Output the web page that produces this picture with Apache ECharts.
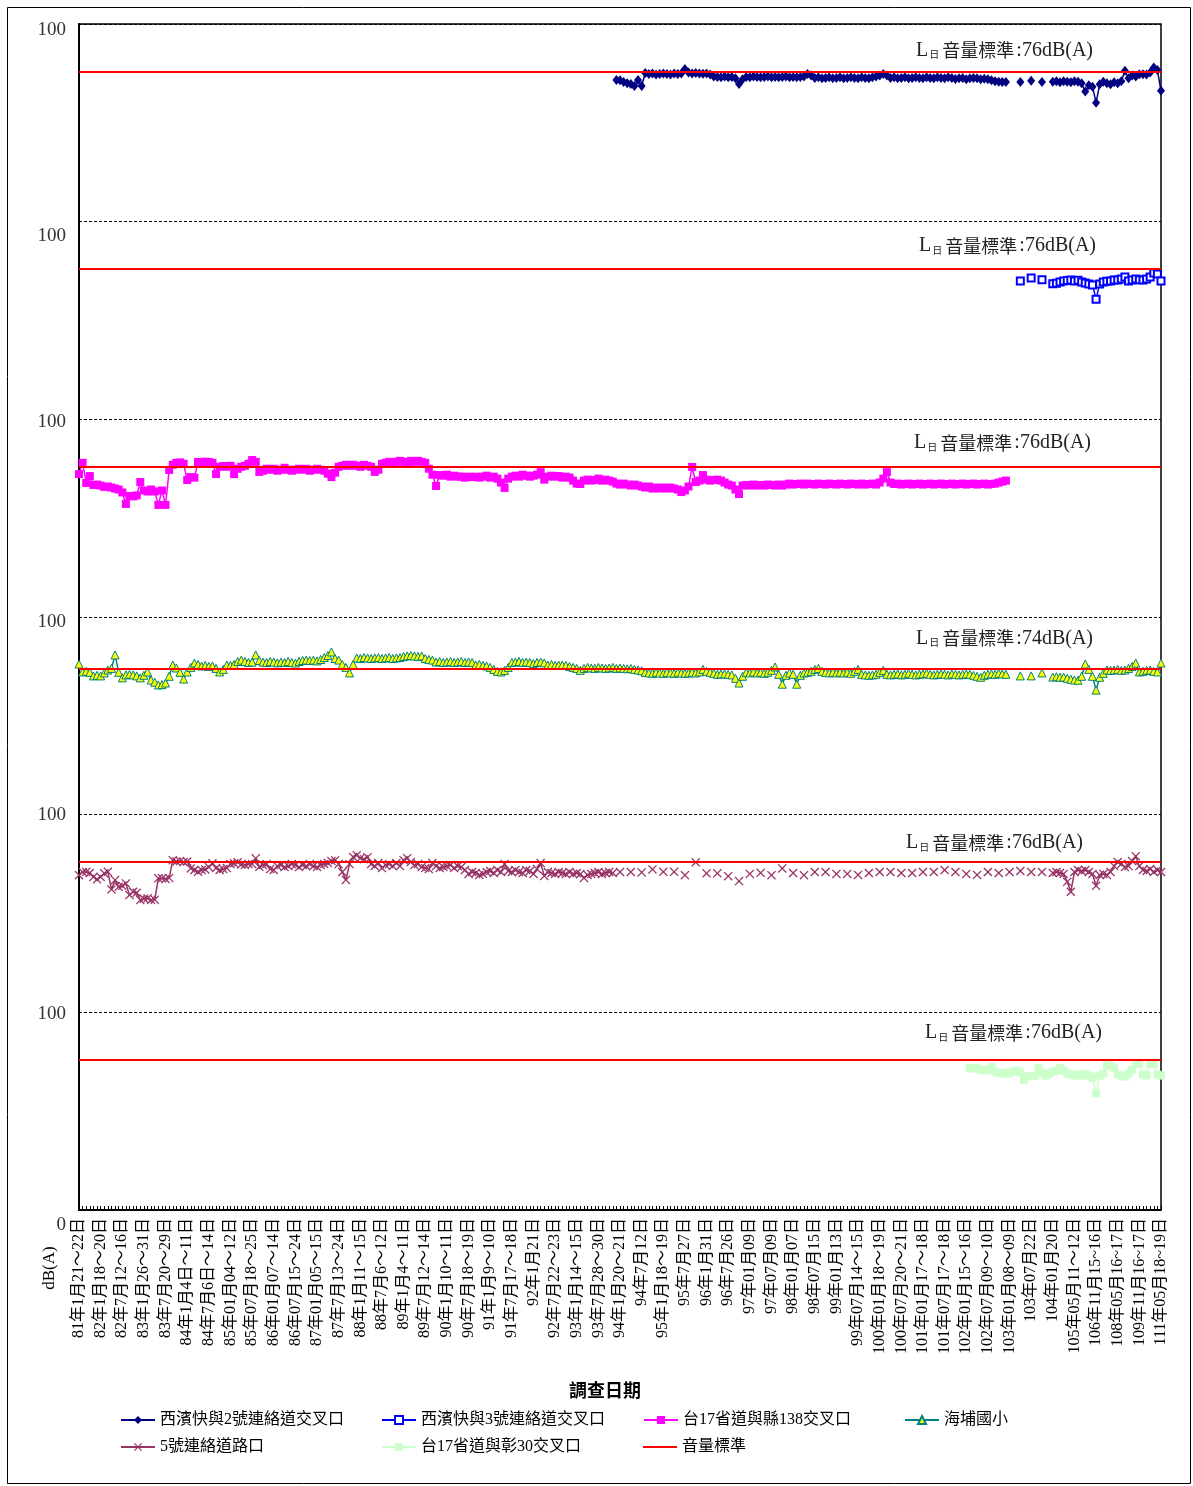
<!DOCTYPE html>
<html><head><meta charset="utf-8">
<script src="https://cdn.jsdelivr.net/npm/echarts@6/dist/echarts.min.js"></script>
<style>html,body{margin:0;padding:0;background:#fff}#c{width:1193px;height:1486px}</style>
</head><body><div id="c"></div>
<script>
// ---- category (survey) labels ----
const surveyLabels = [
'81年1月21～22日','82年1月18～20日','82年7月12～16日','83年1月26～31日','83年7月20～29日',
'84年1月4日～11日','84年7月6日～14日','85年01月04～12日','85年07月18～25日','86年01月07～14日',
'86年07月15～24日','87年01月05～15日','87年7月13～24日','88年1月11～15日','88年7月6～12日',
'89年1月4～11日','89年7月12～14日','90年1月10～11日','90年7月18～19日','91年1月9～10日',
'91年7月17～18日','92年1月21日','92年7月22～23日','93年1月14～15日','93年7月28～30日',
'94年1月20～21日','94年7月12日','95年1月18～19日','95年7月27日','96年1月31日',
'96年7月26日','97年01月09日','97年07月09日','98年01月07日','98年07月15日',
'99年01月13日','99年07月14～15日','100年01月18～19日','100年07月20～21日','101年01月17～18日',
'101年07月17～18日','102年01月15～16日','102年07月09～10日','103年01月08～09日','103年07月22日',
'104年01月20日','105年05月11～12日','106年11月15~16日','108年05月16~17日','109年11月16~17日',
'111年05月18~19日'];
const slotsPerSurvey = 6;

const seriesNames = ['西濱快與2號連絡道交叉口','西濱快與3號連絡道交叉口','台17省道與縣138交叉口','海埔國小','5號連絡道路口','台17省道與彰30交叉口','音量標準'];
const standards = [76, 76, 76, 74, 76, 76];

// ---- values, dB(A) ----
// 西濱快與2號連絡道交叉口 : starts at category 149
const west2Start = 149;
const west2Early = [
71.7,71.5,70.7,70,69.6,68.6,71.7,68.6,75.2,74.7,
75,74.5,74.7,75,74.7,74.5,75,74.7,75,77.2,
75.5,75,75.2,75,74.8,75,74.5,73.5,73.2,73,
73.5,73,73.2,72.5,69.6,72,73.2,73,73.5,73.2,
73,73.2,73.5,73,73.2,73,73.2,73.5,73,73.2,
73,73.2,73.5,74.7,74,72.7,73,72.5,72.7,73,
72.5,72.7,73,72.5,72.7,73,72.7,72.5,73,72.7,
72.5,73,73.5,74,74.7,74,72.7,73,72.5,72.7,
73,72.5,72.7,73,72.7,72.5,73,72.7,72.5,73,
72.7,72.5,73,72.7,72.2,72.5,72.7,72,72.5,72.7,
72.5,72,72.3,72,71.5,71,70.8,70.6,70.6];
const lateStart = 261;
const west2Late = [70.7,null,null,71.3,null,null,70.7,null,null,
70.8,71,70.5,71,70.8,70.5,71,70.8,70,65.8,
69,68.3,60.2,69.5,70.8,70,69.5,70.5,70,71,
76.4,72.5,74,73.5,74.6,74.6,74.5,75.5,78,76.7,
66.2];
// 西濱快與3號連絡道交叉口 : starts at category 261
const west3Late = [70,null,null,71.5,null,null,70.6,null,null,
68.6,68.8,69.5,70,70.2,70.5,70,70.3,69.5,69,
68.5,68,60.8,68.5,69.5,69.8,70,70.5,70.5,71,
72,70,70.5,71,70.6,70.5,71,72,74,73.5,
70];
// 台17省道與縣138交叉口 : starts at category 0
const tai138 = [
72.3,78,67.8,71.3,66.8,67,66.5,65.8,66,65.5,
65,64.5,63,57.2,61.2,61,61.5,68.3,64,63.5,
64.5,63.5,56.7,64,56.7,74.4,77,78,78.2,77.5,
69.3,70.8,70.5,78.4,78.4,78.6,78.4,78,72.3,76,
76.4,76,76.5,72.3,75,76,76.5,77.5,79.4,78.5,
73.4,74,75,74.5,75,74,74.5,75.5,74.5,74,
74.5,75,74.5,75,74,74.5,75,74.5,74,72.5,
70.8,73,76,76.5,77,76.5,77,76.5,76,77,
76.5,76,73.4,74.5,77.5,78,78.5,78,78.5,79,
78.5,78,79,78.5,79,78.5,78,75,72,66.3,
71.8,71.5,72,71,71.5,71,71,70.5,71,70.8,
71,70.5,71,71.5,70.5,71,70,68,65.3,70,
71,71.5,71,72,71.5,71,71.5,72,73.3,69.5,
71,71.5,71,71.3,70.5,71,70.5,69,67.5,67.3,
69,69.5,69,69.3,70,69,69.5,69,68.5,67.5,
67,67.5,67,66.5,67,66.5,66,65.5,66,65,
65.5,65,65.5,65,65.5,65,64.5,63.2,64,66,
75.9,68.3,69,71.8,69.5,69,69.3,69.5,69,68,
67,66.5,64.5,62.2,66.5,66.8,66.5,67,66.5,66.8,
66.5,67,66.8,66.5,67,66.5,67,67.5,67,67.3,
67.5,67,67.5,67.3,67,67.5,67.3,67,67.5,67.3,
67,67.5,67.3,67,67.5,67.3,67,67.5,67,67.3,
67.5,67,68,70,73.3,68,67.3,67.5,67,67.3,
67.5,67,67.3,67.5,67,67.3,67.5,67,67.3,67.5,
67,67.3,67.5,67,67.3,67.5,67,67.3,67.5,67,
67.3,67.5,67,67.3,67.5,68,68.5,69];
// 海埔國小 : starts at category 0, late part from 261
const haipuEarly = [
76.2,72.2,72.5,72,70.2,70.5,70.2,71.7,73.2,74,
80.8,72,69.2,70.7,71,70.7,70.2,69.2,70.5,72.2,
68.1,67,65.6,65.8,66.6,70,75.7,74.2,72,68.6,
72.2,74.5,76.7,76,75.2,75.5,75,75.2,74,72.2,
73.5,75.7,75.5,76,77.5,78.2,77.5,77,77.2,80.8,
78,77.2,77,77.5,77.2,76.8,77.2,77,77.5,77,
76.7,77.5,78,78.2,78,78.2,77.8,78.5,79.5,80.5,
82.3,79,78.2,76,74.5,71.7,76,79.3,79,79.5,
79.3,79,79.3,79.5,79,79.3,79.5,79,79.3,79.5,
80,80.3,80.5,80.3,80,80.3,79,78.5,78.2,77.2,
77.5,77,77.2,77.5,77,77.2,77.5,77,77.2,77,
75.7,76,75.5,75.2,74.5,73.5,72.5,72.2,73,74.5,
77,77.2,77.5,77,77.2,77,76.5,77,77.2,76.8,
75.7,76,75.5,75.7,75.7,75.5,75,74.5,74,73,
74,74.5,74.2,74,74.5,74.2,74,74.2,74.5,74,
74.2,74,73.8,74,73.5,73.2,72.8,72,71.7,71.5,
72,71.7,71.5,72,71.7,71.5,72,71.7,71.5,71.7,
72,71.7,72.2,73.5,72.5,72,71.5,71,71.2,71.2,
71,70.7,69,66.6,70,72,71.7,72.2,71.7,72,
71.5,72,73,74.7,71,66,70.5,71.7,71,66,
70.5,71.7,72,72.5,73.5,74,72.5,72,71.7,72,
71.7,72,71.7,72,71.5,72.5,73.5,71,70.7,70.5,
70.7,71,72,73,71,70.7,71,71.2,70.7,71,
71.5,71,70.7,71,71.2,71.5,71,70.7,71,71.2,
71,70.7,71.2,71,70.7,71,71.2,71,70.5,70,
69.5,70.5,71,71.2,71,71.5,71.2,71];
const haipuLate = [70.2,null,null,70.2,null,null,71.7,null,null,
69.6,69.8,69.5,69.6,69,68.5,68.1,68,70,76.2,
73.5,70,63,69.5,71.5,73.2,73,73.2,73.5,73,
73.2,74,75,76.7,72.2,72.5,73,73.2,72.5,72.2,
76.7];
// 5號連絡道路口 : dense 0-148, every 3rd category 150-267, dense 270-300
const no5Early = [
69.4,71,71.1,70.5,68.5,67.3,68.5,70.3,71.1,62.2,
66.9,63.5,64,65.2,59.3,61,60.5,56.8,57.5,57.7,
56.8,57,67.8,67.8,67.5,68,77,76.3,76.5,76,
76.3,72.8,72,71.1,72,72.3,73.5,75.4,73,72,
72.5,73,75,75.4,75.9,74.8,74.5,75,75,77.9,
73.6,74.5,75,72.5,72,74,74.5,73.5,74,75,
74.5,73.5,74.5,74,75,74,73.5,74.5,75,75.5,
76.5,77,75,71,67,75,78.6,79.5,78,77.5,
78.5,75,74,75.5,73,74.5,75,74,75.5,74,
77,78,76,74.5,75,73.5,73,72.5,75.5,74,
73,73.5,74,74.5,73,74,73.5,72,70,71,
70.5,69.5,70,71,71.5,70.5,72,71,75,71.5,
71,72,71,70.5,72,71.5,70,72.5,75.5,69,
71,70.5,70,71,70.5,70,71,70,70.5,70,
68,69.5,70,70.5,71,70,70.5,71,70.5];
const no5SparseStart = 150;
const no5Sparse = [
71,71,70.8,72.3,71.1,71.1,69.4,75.9,70.3,70.3,
68.9,66.4,70,70.6,69.4,72.8,70.5,69.4,71,71,
70,70,69.5,70.5,71,71,70.5,70.5,71,71,
72,71,70,69.5,71,70.5,71,71.5,71,71];
const no5LateStart = 270;
const no5Late = [
70.5,71,70.5,70,66,61,71,72,71.5,72,
71,70,64,69.5,70,69.5,71,74,76,75,
73.5,74,76.5,79,74,72,71.5,72.5,71,72,
71];
// 台17省道與彰30交叉口 : starts at category 247
const green30Start = 247;
const green30 = [
71.8,71.5,71.8,71,70.5,71,72.4,70,69.5,69,
69.5,69,70,70.5,69.5,65.8,67.5,67.8,68,71.8,
69.5,68,69,70,70.5,71.8,70.5,69,68.5,68,
68.5,68,69,68,67,59,68,69,73.3,73,
72,68.5,68,67.5,69,71,73.8,74,68.5,68,
73.8,74,68.5,68];

// ---- build ----
const categories = [];
surveyLabels.forEach((lab, k) => {
  categories.push(lab);
  if (k < surveyLabels.length - 1) for (let s = 1; s < slotsPerSurvey; s++) categories.push(lab + '#' + s);
});
const N = categories.length;
function put(arr, start, vals, step) {
  step = step || 1;
  vals.forEach((v, j) => { if (v !== null) arr[start + j * step] = v; });
  return arr;
}
function blank() { return new Array(N).fill(null); }
const panelBase = [500, 400, 300, 200, 100, 0];
function shift(arr, base) { return arr.map(v => v === null ? null : +(v + base).toFixed(2)); }

const dWest2 = put(put(blank(), west2Start, west2Early), lateStart, west2Late);
const dWest3 = put(blank(), lateStart, west3Late);
const dTai138 = put(blank(), 0, tai138);
const dHaipu = put(put(blank(), 0, haipuEarly), lateStart, haipuLate);
const dNo5 = put(put(put(blank(), 0, no5Early), no5SparseStart, no5Sparse, 3), no5LateStart, no5Late);
const dGreen = put(blank(), green30Start, green30);

const CJK = "'Noto Sans CJK TC', sans-serif";
const SERIF_CJK = "'Liberation Serif','Noto Sans CJK TC', serif";
const xPath = 'path://M0,1 L1,0 L5,4 L9,0 L10,1 L6,5 L10,9 L9,10 L5,6 L1,10 L0,9 L4,5 Z';

function ls(name, data, base, color, extra) {
  return Object.assign({
    name: name, type: 'line', data: shift(data, base),
    showAllSymbol: true, connectNulls: false, animation: false,
    emphasis: { disabled: true }, z: 3,
    lineStyle: { color: color, width: 1.5 },
    itemStyle: { color: color }
  }, extra || {});
}

const labelDist = [[68, 11], [65, 13], [70, 14], [68, 20], [78, 9], [59, 17]];
const mlData = standards.map((v, k) => ({
  yAxis: panelBase[k] + v,
  label: {
    distance: labelDist[k],
    formatter: '{l|L}{s|日}{c|音量標準}{n|:' + v + 'dB(A)}'
  }
}));

const series = [
  ls(seriesNames[0], dWest2, 500, '#000080', { symbol: 'diamond', symbolSize: [8, 10] }),
  ls(seriesNames[1], dWest3, 400, '#0000FF', { symbol: 'emptyRect', symbolSize: 7, itemStyle: { color: '#0000FF', borderWidth: 1 } }),
  ls(seriesNames[2], dTai138, 300, '#FF00FF', { symbol: 'rect', symbolSize: 8 }),
  ls(seriesNames[3], dHaipu, 200, '#008080', { symbol: 'triangle', symbolSize: 8, itemStyle: { color: '#FFFF00', borderColor: '#008080', borderWidth: 1 } }),
  ls(seriesNames[4], dNo5, 100, '#993366', { symbol: xPath, symbolSize: 9 }),
  ls(seriesNames[5], dGreen, 0, '#CCFFCC', { symbol: 'rect', symbolSize: 8 }),
  {
    name: seriesNames[6], type: 'line', data: blank(), symbol: 'none', z: 6,
    lineStyle: { color: '#FF0000', width: 2 }, itemStyle: { color: '#FF0000' }, animation: false,
    markLine: {
      silent: true, symbol: ['none', 'none'], animation: false,
      lineStyle: { color: '#FF0000', width: 2, type: 'solid' },
      label: {
        show: true, position: 'insideEndTop', color: '#222',
        rich: {
          l: { fontFamily: 'Liberation Serif', fontSize: 20, color: '#222' },
          s: { fontFamily: CJK, fontSize: 10, color: '#222', padding: [8, 3, 0, 1] },
          c: { fontFamily: CJK, fontSize: 18, color: '#222', padding: [0, 2, 0, 0] },
          n: { fontFamily: 'Liberation Serif', fontSize: 20, color: '#222' }
        }
      },
      data: mlData
    }
  }
];

const legendPos = [[120, 1412], [381, 1412], [643, 1412], [904, 1412], [120, 1439], [381, 1439], [643, 1439]];
const legends = seriesNames.map((n, k) => ({
  data: [k === 6 ? { name: n, icon: 'rect' } : n],
  left: legendPos[k][0], top: legendPos[k][1], selectedMode: false, padding: 0,
  itemWidth: 34, itemHeight: k === 6 ? 2 : 10, itemGap: 4,
  textStyle: { fontFamily: SERIF_CJK, fontSize: 16, color: '#000' }
}));

const yRich = {
  p600: { padding: [12, 0, 0, 0] }, p500: { padding: [28, 0, 0, 0] }, p400: { padding: [6, 0, 0, 0] },
  p300: { padding: [10, 0, 0, 0] }, p200: { padding: [0, 0, 0, 0] }, p100: { padding: [4, 0, 0, 0] },
  z: { padding: [30, 0, 0, 0] }
};
Object.keys(yRich).forEach(k => Object.assign(yRich[k], { fontFamily: 'Liberation Serif', fontSize: 19, color: '#333' }));

const chart = echarts.init(document.getElementById('c'), null, { renderer: 'canvas' });
chart.setOption({
  animation: false,
  backgroundColor: '#fff',
  grid: { left: 79, right: 32, top: 24, bottom: 276, show: true, borderColor: '#000', borderWidth: 1.5 },
  legend: legends,
  xAxis: {
    type: 'category', data: categories, boundaryGap: false,
    name: '調查日期', nameLocation: 'middle', nameGap: 171,
    nameTextStyle: { fontFamily: CJK, fontSize: 18, fontWeight: 'bold', color: '#000', padding: [0, 30, 0, 0] },
    axisLine: { lineStyle: { color: '#000', width: 2 } },
    axisTick: { show: true, interval: 0, inside: true, length: 4, lineStyle: { color: '#000' } },
    axisLabel: { interval: 5, rotate: 90, fontSize: 16, color: '#000', fontFamily: SERIF_CJK, margin: 8 },
    splitLine: { show: false }
  },
  yAxis: {
    type: 'value', min: 0, max: 600, interval: 100,
    axisLine: { show: true, lineStyle: { color: '#000', width: 2 } },
    axisTick: { show: false },
    axisLabel: {
      margin: 13,
      formatter: v => v === 0 ? '{z|0}' : '{p' + v + '|100}',
      rich: yRich
    },
    splitLine: { show: true, lineStyle: { color: '#000', width: 1, type: [3, 2] } }
  },
  graphic: [
    { type: 'rect', shape: { x: 7.5, y: 7.5, width: 1183, height: 1476 }, style: { fill: 'none', stroke: '#000', lineWidth: 1 }, silent: true },
    { type: 'text', x: 50, y: 1268, rotation: Math.PI / 2, silent: true,
      style: { text: 'dB(A)', font: '17px "Liberation Serif"', fill: '#000', textAlign: 'center', textVerticalAlign: 'middle' } }
  ],
  series: series
});
</script></body></html>
